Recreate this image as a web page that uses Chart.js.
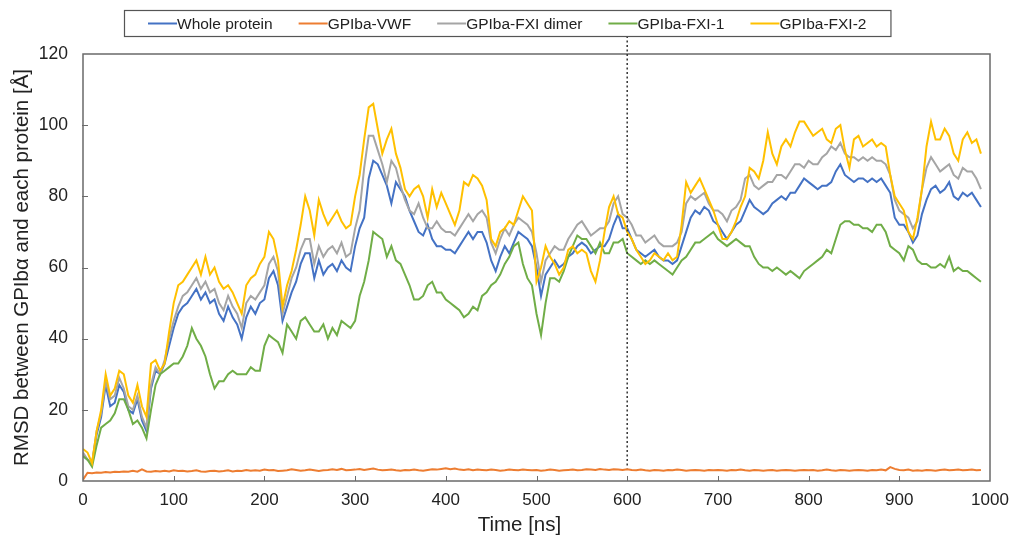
<!DOCTYPE html>
<html lang="en">
<head>
    <meta charset="UTF-8">
    <script src="https://cdn.jsdelivr.net/npm/chart.js"></script>
    <style>
        html, body { margin: 0; padding: 0; background: #fff; }
        #wrap { width: 1011px; height: 541px; }
    </style>
    <title>RMSD GPIba</title>
</head>
<body>

<div id="wrap">
    <canvas id="rmsdChart" width="1011" height="541"></canvas>
</div>

<script>
    // Time axis [ns], one sample every 5 ns
    const timeNs = Array.from({ length: 199 }, (_, i) => i * 5);

    const xTicks = [0, 100, 200, 300, 400, 500, 600, 700, 800, 900, 1000];
    const yTicks = [0, 20, 40, 60, 80, 100, 120];
    const markerTime = 600;

    const seriesNames = ['Whole protein', 'GPIba-VWF', 'GPIba-FXI dimer', 'GPIba-FXI-1', 'GPIba-FXI-2'];
    const seriesColors = ['#4472C4', '#ED7D31', '#A5A5A5', '#70AD47', '#FFC000'];

    // RMSD values [Å]
    const wholeProtein = [
        7, 6, 5, 13, 18, 27, 21, 22, 27, 25, 20, 19, 23, 17, 14, 26, 31, 30, 33, 38,
        43, 47, 49, 50, 52, 54, 51, 53, 50, 51, 47, 45, 49, 46, 44, 40, 46, 49, 47, 50,
        51, 57, 59, 55, 45, 49, 53, 56, 61, 64, 64, 57, 62, 58, 60, 61, 59, 62, 60, 59,
        66, 71, 74, 85, 90, 89, 86, 83, 78, 84, 82, 80, 76, 73, 70, 69, 72, 68, 66, 66,
        65, 65, 64, 66, 68, 70, 68, 70, 70, 67, 62, 59, 63, 66, 64, 67, 70, 69, 68, 66,
        60, 52, 58, 60, 62, 60, 61, 63, 64, 66, 67, 66, 64, 65, 66, 66, 68, 72, 75, 71,
        71, 68, 65, 64, 63, 64, 65, 63, 62, 62, 61, 62, 66, 70, 74, 76, 75, 77, 76, 73,
        72, 70, 68, 70, 72, 73, 76, 79, 77, 76, 75, 76, 78, 79, 80, 79, 81, 81, 83, 85,
        84, 83, 82, 83, 83, 84, 87, 89, 86, 85, 84, 85, 85, 84, 85, 84, 85, 83, 81, 74,
        72, 72, 70, 67, 69, 75, 79, 82, 83, 81, 82, 84, 80, 79, 81, 80, 81, 79, 77
    ];
    const gpibaVwf = [
        0.4, 2.3, 2.2, 2.4, 2.3, 2.5, 2.4, 2.6, 2.5, 2.7, 2.6, 2.9, 2.6, 3.3, 2.7, 2.6, 2.8, 2.7, 2.9, 2.7,
        3.0, 2.8, 2.9, 2.7, 2.8, 3.0, 2.7, 2.6, 2.8, 2.9, 2.7, 2.8, 3.0, 2.7, 2.9, 2.8, 3.1, 2.9, 3.0, 2.9,
        3.2, 3.0, 3.1, 2.8, 2.9, 3.0, 3.3, 3.1, 2.9, 3.0, 3.2, 3.0, 2.8, 3.0, 3.1, 3.3, 3.1, 3.4, 3.0, 3.1,
        3.2, 3.4, 3.1, 3.3, 3.5, 3.2, 3.0, 3.1, 3.2, 3.0, 2.9, 3.1, 3.0, 3.2, 3.0, 2.9, 3.1, 3.3, 3.2, 3.4,
        3.6, 3.3, 3.5, 3.2, 3.1, 3.3, 3.0, 3.2, 3.1, 3.0, 3.2, 3.1, 2.9, 3.0, 3.2, 3.1, 3.0, 3.2, 3.1, 3.0,
        3.1, 2.9, 3.0, 3.2, 3.1, 2.9, 3.0, 3.1, 3.2, 3.0, 3.1, 3.3, 3.2, 3.1, 3.4, 3.2, 3.1, 3.3, 3.2, 3.1,
        3.3, 3.1, 3.0, 3.2, 3.0, 2.9, 3.1, 3.0, 2.9, 3.1, 3.0, 3.2, 3.1, 2.9, 3.0, 3.1, 3.0, 2.9, 3.1, 3.0,
        3.1, 3.0, 2.9, 3.1, 3.0, 3.2, 3.0, 2.9, 3.1, 3.0, 2.9, 3.0, 3.1, 2.9, 3.0, 3.1, 3.0, 2.9, 3.0, 3.1,
        3.0, 3.1, 2.9, 3.0, 3.2, 3.0, 2.9, 3.1, 3.0, 2.9, 3.0, 3.1, 3.0, 2.9, 3.1, 3.0, 3.2, 3.0, 3.9, 3.4,
        3.1, 3.0, 3.2, 2.9, 3.0, 2.9, 3.1, 3.0, 2.9, 3.1, 3.2, 3.0, 3.1, 3.2, 3.0, 3.1, 3.2, 3.0, 3.1
    ];
    const fxiDimer = [
        8, 6, 5, 14, 19, 28, 23, 24, 29, 26, 21, 20, 24, 18, 15, 27, 32, 30, 34, 40,
        45, 49, 52, 53, 55, 57, 54, 56, 53, 54, 50, 48, 52, 49, 47, 43, 50, 52, 51, 53,
        55, 61, 63, 59, 47, 52, 57, 60, 65, 68, 68, 61, 66, 63, 65, 66, 64, 67, 63, 64,
        71, 76, 88, 97, 97, 93, 89, 84, 90, 88, 83, 79, 76, 75, 78, 74, 71, 71, 73, 71,
        70, 70, 69, 71, 73, 75, 73, 75, 76, 74, 67, 64, 68, 71, 69, 72, 74, 73, 72, 70,
        64, 56, 62, 64, 66, 65, 65, 68, 70, 72, 73, 71, 69, 70, 71, 71, 73, 78, 80, 75,
        74, 72, 69, 69, 67, 68, 69, 67, 66, 66, 66, 67, 70, 78, 80, 79, 80, 81, 78, 76,
        76, 75, 73, 76, 77, 79, 85, 86, 83, 82, 83, 84, 84, 86, 86, 85, 87, 89, 89, 88,
        90, 89, 89, 91, 92, 94, 93, 95, 92, 91, 91, 90, 91, 90, 91, 90, 90, 89, 86, 79,
        76, 75, 74, 71, 73, 82, 88, 91, 89, 87, 88, 89, 86, 85, 88, 87, 87, 85, 82
    ];
    const fxi1 = [
        7, 6, 4, 10, 15, 16, 17, 19, 23, 23, 20, 16, 17, 15, 12, 20, 27, 30, 31, 32,
        33, 33, 35, 38, 43, 40, 38, 35, 30, 26, 28, 28, 30, 31, 30, 30, 30, 32, 31, 31,
        38, 41, 40, 39, 36, 44, 42, 40, 45, 46, 44, 42, 42, 44, 40, 43, 41, 45, 44, 43,
        45, 52, 56, 62, 70, 69, 68, 63, 66, 62, 61, 58, 55, 51, 51, 52, 55, 56, 53, 53,
        51, 50, 49, 48, 46, 47, 49, 48, 52, 53, 55, 56, 58, 61, 63, 66, 67, 61, 57, 55,
        47, 41, 50, 57, 57, 56, 59, 63, 66, 69, 68, 68, 66, 64, 67, 64, 64, 67, 67, 68,
        64, 63, 62, 61, 62, 61, 62, 61, 60, 59, 58, 60, 62, 63, 65, 67, 67, 68, 69, 70,
        68, 67, 66, 67, 68, 67, 66, 66, 63, 61, 60, 60, 59, 60, 59, 58, 59, 58, 57, 59,
        60, 61, 62, 63, 65, 64, 68, 72, 73, 73, 72, 72, 71, 71, 70, 72, 72, 70, 66, 65,
        64, 62, 66, 65, 62, 61, 61, 60, 60, 61, 60, 63, 59, 60, 59, 59, 58, 57, 56
    ];
    const fxi2 = [
        9, 8, 5, 14, 20, 30, 24, 26, 31, 30, 24, 22, 27, 21, 18, 33, 34, 31, 33, 42,
        50, 55, 56, 58, 60, 62, 58, 63, 58, 60, 56, 54, 55, 53, 50, 47, 55, 57, 58, 61,
        63, 70, 68, 62, 49, 55, 59, 65, 72, 80, 76, 69, 79, 75, 72, 74, 76, 73, 71, 72,
        80, 86, 96, 105, 106, 99, 92, 96, 99, 92, 88, 82, 80, 82, 83, 80, 74, 82, 77, 81,
        78, 75, 72, 76, 84, 83, 86, 85, 83, 79, 68, 66, 70, 71, 73, 72, 76, 80, 78, 76,
        56, 60, 66, 63, 61, 58, 60, 65, 66, 64, 65, 64, 59, 56, 62, 70, 77, 80, 75, 74,
        70, 68, 65, 63, 61, 62, 64, 63, 62, 64, 62, 63, 72, 84, 81, 83, 85, 82, 79, 76,
        72, 68, 68, 70, 73, 77, 80, 88, 87, 85, 90, 98, 92, 89, 94, 96, 94, 98, 101, 101,
        99, 97, 98, 99, 96, 95, 99, 100, 93, 88, 96, 97, 94, 95, 96, 94, 95, 94, 86, 80,
        78, 76, 70, 68, 74, 82, 94, 101, 96, 96, 99, 97, 92, 90, 96, 98, 95, 96, 92
    ];

    const seriesValues = [wholeProtein, gpibaVwf, fxiDimer, fxi1, fxi2];

    const FONT = '"Liberation Sans", Arial, Helvetica, sans-serif';
    const TEXT = '#222';
    const AXIS = '#6a6a6a';

    Chart.defaults.font.family = FONT;
    Chart.defaults.color = TEXT;

    // Frame, inward tick marks and the dotted marker at 600 ns
    const framePlugin = {
        id: 'frame',
        afterDraw(chart) {
            const { ctx, chartArea: a, scales: { x, y } } = chart;
            ctx.save();
            ctx.strokeStyle = AXIS;
            ctx.lineWidth = 1.5;
            ctx.strokeRect(a.left, a.top, a.right - a.left, a.bottom - a.top);

            ctx.lineWidth = 1;
            ctx.beginPath();
            xTicks.slice(1, -1).forEach(v => {
                const px = Math.round(x.getPixelForValue(v)) + 0.5;
                ctx.moveTo(px, a.bottom);
                ctx.lineTo(px, a.bottom - 5);
            });
            yTicks.slice(1, -1).forEach(v => {
                const py = Math.round(y.getPixelForValue(v)) + 0.5;
                ctx.moveTo(a.left - 1, py);
                ctx.lineTo(a.left + 5, py);
            });
            ctx.stroke();

            const mx = x.getPixelForValue(markerTime);
            ctx.strokeStyle = '#333';
            ctx.lineWidth = 1.5;
            ctx.setLineDash([2, 2.5]);
            ctx.beginPath();
            ctx.moveTo(mx, a.top - 18);
            ctx.lineTo(mx, y.getPixelForValue(3.6));
            ctx.stroke();
            ctx.restore();
        }
    };

    // Boxed legend at the top, centred on the canvas
    const legendPlugin = {
        id: 'boxLegend',
        afterDraw(chart) {
            const { ctx, width } = chart;
            const lineLen = 29, gap = 26, pad = 24;
            ctx.save();
            ctx.font = '15.5px ' + FONT;
            const widths = seriesNames.map(n => ctx.measureText(n).width);
            const total = widths.reduce((s, w) => s + lineLen + w, 0) + gap * (seriesNames.length - 1);
            const boxW = total + pad * 2;
            const boxL = Math.round(width / 2 + 2 - boxW / 2);
            const boxT = 10, boxH = 26;

            ctx.strokeStyle = '#555';
            ctx.lineWidth = 1.2;
            ctx.strokeRect(boxL + 0.5, boxT + 0.5, boxW, boxH);

            let cx = boxL + pad;
            const cy = boxT + boxH / 2 + 0.5;
            ctx.textBaseline = 'middle';
            ctx.fillStyle = TEXT;
            seriesNames.forEach((n, i) => {
                ctx.strokeStyle = seriesColors[i];
                ctx.lineWidth = 2;
                ctx.beginPath();
                ctx.moveTo(cx, cy);
                ctx.lineTo(cx + lineLen, cy);
                ctx.stroke();
                ctx.fillText(n, cx + lineLen, cy + 1);
                cx += lineLen + widths[i] + gap;
            });
            ctx.restore();
        }
    };

    const ctx = document.getElementById('rmsdChart').getContext('2d');
    const chart = new Chart(ctx, {
        type: 'line',
        data: {
            datasets: seriesNames.map((name, i) => ({
                label: name,
                data: timeNs.map((t, k) => ({ x: t, y: seriesValues[i][k] })),
                borderColor: seriesColors[i],
                backgroundColor: seriesColors[i],
                borderWidth: 2,
                pointRadius: 0,
                tension: 0,
                fill: false,
                order: seriesNames.length - 1 - i
            }))
        },
        options: {
            responsive: false,
            animation: false,
            devicePixelRatio: 1,
            layout: { padding: { top: 54, right: 21, bottom: 0, left: 0 } },
            plugins: {
                legend: { display: false },
                tooltip: { enabled: false }
            },
            scales: {
                x: {
                    type: 'linear',
                    min: 0,
                    max: 1000,
                    afterFit: s => { s.height = 60; s.paddingRight = 0; s.paddingLeft = 0; },
                    afterBuildTicks: s => { s.ticks = xTicks.map(v => ({ value: v })); },
                    grid: { display: false, drawTicks: false },
                    border: { display: false },
                    ticks: {
                        padding: 9,
                        font: { size: 17 },
                        color: TEXT,
                        maxRotation: 0,
                        callback: v => String(v)
                    },
                    title: {
                        display: true,
                        // trailing spaces nudge the centred title left, as in the original
                        text: 'Time [ns]\u00a0\u00a0\u00a0\u00a0\u00a0\u00a0',
                        font: { size: 20.5 },
                        color: TEXT,
                        padding: { top: 0, bottom: 3 }
                    }
                },
                y: {
                    min: 0,
                    max: 120,
                    afterFit: s => { s.width = 83; s.paddingTop = 0; s.paddingBottom = 0; },
                    afterBuildTicks: s => { s.ticks = yTicks.map(v => ({ value: v })); },
                    grid: { display: false, drawTicks: false },
                    border: { display: false },
                    ticks: { padding: 15, font: { size: 17.5 }, color: TEXT },
                    title: {
                        display: true,
                        text: 'RMSD between GPIbα and each protein [Å]',
                        font: { size: 20.5 },
                        color: TEXT,
                        padding: { top: 10, bottom: 0 }
                    }
                }
            }
        },
        plugins: [framePlugin, legendPlugin]
    });
</script>

</body>
</html>
